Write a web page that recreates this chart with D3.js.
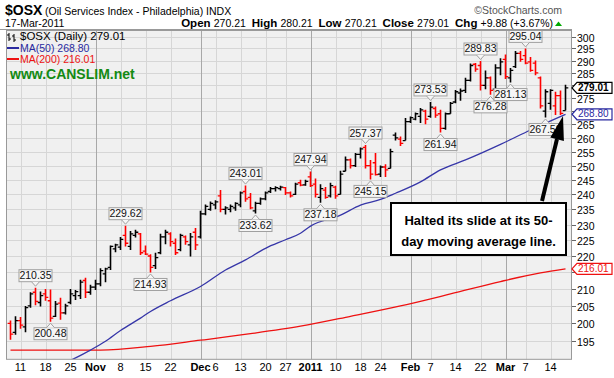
<!DOCTYPE html>
<html><head><meta charset="utf-8">
<script src="https://cdn.jsdelivr.net/npm/d3@7"></script>
<style>
body{margin:0;background:#fff}
svg{display:block}
text{font-family:"Liberation Sans",Arial,sans-serif}
</style>
</head><body><svg id="c" width="614" height="378"></svg>
<script>
// ---------------- DATA ----------------
const dates = [
"2010-10-07","2010-10-08","2010-10-11","2010-10-12","2010-10-13","2010-10-14","2010-10-15","2010-10-18","2010-10-19","2010-10-20","2010-10-21","2010-10-22","2010-10-25","2010-10-26","2010-10-27","2010-10-28","2010-10-29",
"2010-11-01","2010-11-02","2010-11-03","2010-11-04","2010-11-05","2010-11-08","2010-11-09","2010-11-10","2010-11-11","2010-11-12","2010-11-15","2010-11-16","2010-11-17","2010-11-18","2010-11-19","2010-11-22","2010-11-23","2010-11-24","2010-11-26","2010-11-29","2010-11-30",
"2010-12-01","2010-12-02","2010-12-03","2010-12-06","2010-12-07","2010-12-08","2010-12-09","2010-12-10","2010-12-13","2010-12-14","2010-12-15","2010-12-16","2010-12-17","2010-12-20","2010-12-21","2010-12-22","2010-12-23","2010-12-27","2010-12-28","2010-12-29","2010-12-30","2010-12-31",
"2011-01-03","2011-01-04","2011-01-05","2011-01-06","2011-01-07","2011-01-10","2011-01-11","2011-01-12","2011-01-13","2011-01-14","2011-01-18","2011-01-19","2011-01-20","2011-01-21","2011-01-24","2011-01-25","2011-01-26","2011-01-27","2011-01-28","2011-01-31",
"2011-02-01","2011-02-02","2011-02-03","2011-02-04","2011-02-07","2011-02-08","2011-02-09","2011-02-10","2011-02-11","2011-02-14","2011-02-15","2011-02-16","2011-02-17","2011-02-18","2011-02-22","2011-02-23","2011-02-24","2011-02-25","2011-02-28",
"2011-03-01","2011-03-02","2011-03-03","2011-03-04","2011-03-07","2011-03-08","2011-03-09","2011-03-10","2011-03-11","2011-03-14","2011-03-15","2011-03-16","2011-03-17"];

const open = [200,197.5,200.8,199,205,209,206,208.5,206.5,202,205.8,203,206,208,208,212.5,209,
210.5,211.5,214.5,216.5,222.2,222.8,226.5,223,226.5,227,221.5,220,217,221,226,227,224,222,226,223.5,227.5,
226,233.5,235,236.5,239.5,235,235,235.5,236.5,241,239,234.5,237,238.5,241,242,242,242.3,240.5,240,244,243.3,
246,243.5,239,241.5,239.5,242.5,240,248,252,250,254,256.5,250,251,247,249.5,249,261,259.5,259,
266,267,268,270,268,271,269,263.5,269,273.5,277,278,282,288.5,288,280,283,278.5,287,
290.5,283,287.5,293,292,289.5,289,283,270,273,272,276,270.21];
const high = [200.8,202,201.8,205,209,210.35,209.2,210,209.8,206.4,207.4,205.6,210,209.7,212.7,213.3,211.2,
212.7,216.2,216.4,223.3,223.8,226,229.62,227.9,228.3,227.3,223.3,220.5,221,227,228.3,227.5,225.5,227,226.5,227.3,228.9,
234.5,236.6,237.6,238,241.5,236,236.6,237.4,241,243.01,240.5,237.5,239,241,242.5,242.8,243,242.5,241,244,245,245,
247.94,245.5,243.5,242.5,244,243,248.2,253.2,252.5,254.5,256.5,257.37,252,254.5,250,250.5,256,262,260.5,267.4,
268,269.5,271.2,270.5,273.53,271.8,270.5,269.5,273.5,278.2,278.8,283,288.8,289,289.83,286,283.5,288.5,291,
292.5,287,294,294,295.04,291.5,290,283.5,278.5,278.5,277.5,278,280.21];
const low = [195.4,196.8,198.5,197.5,204.5,205.2,204.8,206.5,200.48,201.8,201,202.5,205.5,206.7,207,207.3,208.3,
209.7,210.8,212,215.7,221.2,221.9,223,221.9,225.8,220.3,220.3,214.93,216,220.5,223.7,223,220.3,221.5,223.5,219.8,221.9,
225.5,233,234.5,235,234,233.3,234,234.5,235.7,237.5,235,233.62,236.5,238,240.5,241,241.3,239.8,239,239.8,242.8,243,
242.5,239,237.18,238.5,239,238.5,240,248,249,249.5,252.5,249,245.15,246.5,246,246,249,259,257,259,
265.5,266.5,265.5,265,267.5,267.5,261.94,263,269,273,274,277,281.5,285.5,278,278.5,276.28,278,284,
282.5,281.13,287,289.5,288.5,285.5,284,271,267.58,270.5,268.5,268.5,270.21];
const close = [197,200.8,199.5,204.5,208.5,206.3,208,207.5,201.5,205.5,203,205,208.5,209.2,212,209,210.5,
211.5,215.5,216,223,223.5,225.2,224,227,227.5,221,220.6,216.5,219.5,226,227.5,224.5,221,226.5,224.5,226,223.5,
233.5,236,237,237.5,235,235.5,236,237,240.5,238.5,235.5,237,238.5,240.5,242,242.3,242.5,240.5,239.5,243.5,243.2,244.5,
243,240,242,239,243,239.5,247,252,250,254,256,250,247,246.8,249.5,248.5,255,260,258,266,
267.5,269,270.5,267,271.5,268.5,263.5,269,273,277.5,277.8,282,288,286.5,280,283,278,287,289.5,
283.5,286,293,290.5,289,286,285,272,277.5,278,276,269.13,279.01];

// moving averages at selected trading days (index into dates)
const ma50Idx = [12,16,19,22,26,28,32,38,43,47,51,55,58,60,66,70,74,77,82,86,91,98,104,111];
const ma50Val = [189.8,192.6,195.0,198.0,201.5,203.4,206.5,210.7,215.7,218.8,222.4,225.1,227.2,229.5,233.1,236.4,238.3,240.4,244.3,248.5,252.0,257.6,262.9,268.80];
const ma200Idx = [0,18,28,38,48,58,68,78,88,98,106,111];
const ma200Val = [192.6,192.6,193.6,195.3,197.1,199.2,202.0,205.0,208.5,212.2,214.8,216.01];

const yTicks = [195,200,205,210,215,220,225,230,235,240,245,250,255,260,265,270,275,280,285,290,295,300];
const xTickDates = ["2010-10-11","2010-10-18","2010-10-25","2010-11-01","2010-11-08","2010-11-15","2010-11-22","2010-12-01","2010-12-06","2010-12-13","2010-12-20","2010-12-27","2011-01-03","2011-01-10","2011-01-18","2011-01-24","2011-02-01","2011-02-07","2011-02-14","2011-02-22","2011-03-01","2011-03-07","2011-03-14"];
const xTickLabels = ["11","18","25","Nov","8","15","22","Dec","6","13","20","27","2011","10","18","24","Feb","7","14","22","Mar","7","14"];
const xTickMajor = [0,0,0,1,0,0,0,1,0,0,0,0,1,0,0,0,1,0,0,0,1,0,0];

const peakDates = ["2010-10-14","2010-10-19","2010-11-09","2010-11-16","2010-12-14","2010-12-16","2011-01-03","2011-01-05","2011-01-19","2011-01-20","2011-02-07","2011-02-09","2011-02-22","2011-02-24","2011-03-02","2011-03-07","2011-03-11"];
const peakValues = [210.35,200.48,229.62,214.93,243.01,233.62,247.94,237.18,257.37,245.15,273.53,261.94,289.83,276.28,281.13,295.04,267.58];
const peakTypes = ["h","l","h","l","h","l","h","l","h","l","h","l","h","l","l","h","l"];

// ---------------- CHART ----------------
const svg = d3.select("#c");
const L = 6, R = 572, T = 30.5, B = 359.3;
const x = d3.scalePoint().domain(dates).range([10.5, 565.5]);
const y = d3.scaleLog().domain([190.1, 302.6]).range([B, T]);
const n = close.length-1;
const tagVals = [close[n], ma50Val[ma50Val.length-1], ma200Val[ma200Val.length-1]];

svg.append("rect").attr("x",L).attr("y",T).attr("width",R-L).attr("height",B-T).attr("fill","#f0f0f0");
svg.append("defs").append("clipPath").attr("id","clip").append("rect")
  .attr("x",L).attr("y",T).attr("width",R-L).attr("height",B-T);

// grid
const g = svg.append("g");
yTicks.forEach(t=>{
  g.append("line").attr("x1",L).attr("x2",R).attr("y1",Math.round(y(t))+0.5).attr("y2",Math.round(y(t))+0.5)
   .attr("stroke","#d6d6d6").attr("stroke-width",1);
});
xTickDates.forEach((d,i)=>{
  const xx = Math.round(x(d))+0.5;
  g.append("line").attr("x1",xx).attr("x2",xx).attr("y1",T).attr("y2",B)
   .attr("stroke", xTickMajor[i] ? "#a8a8a8" : "#d6d6d6").attr("stroke-width",1);
});

// MA lines
const plot = svg.append("g").attr("clip-path","url(#clip)");
const line = d3.line().x(d=>x(dates[d[0]])).y(d=>y(d[1])).curve(d3.curveMonotoneX);
plot.append("path").datum(ma200Idx.map((d,i)=>[d,ma200Val[i]])).attr("d",line)
  .attr("fill","none").attr("stroke","#ee1111").attr("stroke-width",1.3);
plot.append("path").datum(ma50Idx.map((d,i)=>[d,ma50Val[i]])).attr("d",line)
  .attr("fill","none").attr("stroke","#3636a8").attr("stroke-width",1.3);

// bars
dates.forEach((d,i)=>{
  const prev = i>0 ? close[i-1] : open[i];
  const col = close[i] < prev ? "#ff0000" : "#000000";
  const xx = x(d);
  const bg = plot.append("g").attr("stroke",col);
  bg.append("line").attr("x1",xx).attr("x2",xx).attr("y1",y(low[i])).attr("y2",y(high[i])).attr("stroke-width",1.6);
  bg.append("line").attr("x1",xx-2.8).attr("x2",xx).attr("y1",y(open[i])).attr("y2",y(open[i])).attr("stroke-width",1.3);
  bg.append("line").attr("x1",xx).attr("x2",xx+2.8).attr("y1",y(close[i])).attr("y2",y(close[i])).attr("stroke-width",1.3);
});

// peak labels
peakDates.forEach((d,i)=>{
  const xx = x(d), yy = y(peakValues[i]);
  const w = 33, h = 12;
  const lg = svg.append("g");
  let by, tri;
  if (peakTypes[i]==="h") {
    by = yy - 6 - h;
    tri = `M${xx-4},${by+h} L${xx},${yy-1.5} L${xx+4},${by+h}`;
  } else {
    by = yy + 6;
    tri = `M${xx-4},${by} L${xx},${yy+1.5} L${xx+4},${by}`;
  }
  lg.append("rect").attr("x",xx-w/2).attr("y",by).attr("width",w).attr("height",h)
    .attr("fill","#f6f6f6").attr("stroke","#a0a0a0").attr("stroke-width",1);
  lg.append("path").attr("d",tri).attr("fill","#f6f6f6").attr("stroke","#a0a0a0").attr("stroke-width",1);
  lg.append("text").attr("x",xx).attr("y",by+h-2.5).attr("text-anchor","middle")
    .attr("font-size",10.5).attr("fill","#111").text(peakValues[i].toFixed(2));
});

// plot frame
svg.append("rect").attr("x",L+0.5).attr("y",T).attr("width",R-L-1).attr("height",B-T)
  .attr("fill","none").attr("stroke","#999").attr("stroke-width",1);

// right axis
const ax = svg.append("g");
yTicks.forEach(t=>{
  const yy = Math.round(y(t))+0.5;
  ax.append("line").attr("x1",R).attr("x2",R+4).attr("y1",yy).attr("y2",yy).attr("stroke","#666");
  const hidden = tagVals.some(v=>Math.abs(y(v)-y(t))<8);
  if (!hidden) ax.append("text").attr("x",R+5).attr("y",yy+4.5).attr("font-size",10.5).attr("fill","#000").text(t);
});
// value tags
function tag(v, col, bold){
  const yy = y(v);
  const gg = svg.append("g");
  gg.append("path").attr("d",`M${R},${yy} L${R+5},${yy-5.5} L${R+40},${yy-5.5} L${R+40},${yy+5.5} L${R+5},${yy+5.5} Z`)
    .attr("fill","#fff").attr("stroke",col).attr("stroke-width",1.2);
  gg.append("text").attr("x",R+6).attr("y",yy+3.0).attr("font-size",10).attr("font-weight",bold?"bold":"normal")
    .attr("fill",col).text(v.toFixed(2));
}
tag(tagVals[0], "#000", true);
tag(tagVals[1], "#2a2aa0", false);
tag(tagVals[2], "#ee1111", false);

// x axis labels
xTickDates.forEach((d,i)=>{
  svg.append("text").attr("x",x(d)).attr("y",371).attr("text-anchor","middle")
    .attr("font-size",11).attr("font-weight",xTickMajor[i]?"bold":"normal").attr("fill","#000")
    .text(xTickLabels[i]);
});

// header
const hd = svg.append("g");
hd.append("text").attr("x",5).attr("y",15).attr("font-size",14).attr("font-weight","bold").text("$OSX");
hd.append("text").attr("x",45).attr("y",15).attr("font-size",10.5).text("(Oil Services Index - Philadelphia) INDX");
hd.append("text").attr("x",562).attr("y",14).attr("font-size",10.5).attr("text-anchor","end").attr("fill","#555").text("\u00A9StockCharts.com");
hd.append("text").attr("x",5).attr("y",27).attr("font-size",10.5).text("17-Mar-2011");
const ohlc = hd.append("text").attr("x",553).attr("y",27).attr("font-size",10.5).attr("text-anchor","end");
const chg = close[n]-close[n-1];
[["Open ",true],[open[n].toFixed(2)+"  ",false],["High ",true],[high[n].toFixed(2)+"  ",false],["Low ",true],[low[n].toFixed(2)+"  ",false],
 ["Close ",true],[close[n].toFixed(2)+"  ",false],["Chg ",true],["+"+chg.toFixed(2)+" (+"+(chg/close[n-1]*100).toFixed(2)+"%)",false]]
 .forEach(p=>ohlc.append("tspan").attr("font-weight",p[1]?"bold":"normal").attr("font-size",p[1]?11.5:10.5).attr("xml:space","preserve").text(p[0]));
hd.append("path").attr("d","M555,26 L558.5,21.5 L562,26 Z").attr("fill","#00aa00");
hd.append("line").attr("x1",0).attr("x2",R).attr("y1",29.5).attr("y2",29.5).attr("stroke","#999");

// legend
const lgd = svg.append("g");
lgd.append("path").attr("d","M9,33 V41 M7,35 H9 M9,39 H11 M14,34 V42 M12,36 H14 M14,40 H16").attr("stroke","#000").attr("stroke-width",1);
lgd.append("text").attr("x",20).attr("y",40).attr("font-size",11.5).attr("font-family","DejaVu Sans").text("$OSX (Daily) "+close[n].toFixed(2));
lgd.append("line").attr("x1",7).attr("x2",19).attr("y1",48).attr("y2",48).attr("stroke","#2a2aa0").attr("stroke-width",2);
lgd.append("text").attr("x",20).attr("y",52).attr("font-size",10.5).attr("fill","#2a2aa0").text("MA(50) "+tagVals[1].toFixed(2));
lgd.append("line").attr("x1",7).attr("x2",19).attr("y1",59).attr("y2",59).attr("stroke","#ee1111").attr("stroke-width",2);
lgd.append("text").attr("x",20).attr("y",63).attr("font-size",10.5).attr("fill","#ee1111").text("MA(200) "+tagVals[2].toFixed(2));
lgd.append("text").attr("x",10).attr("y",79).attr("font-size",14).attr("font-weight","bold").attr("fill","#138a13").text("www.CANSLIM.net");

// annotation
const an = svg.append("g");
an.append("rect").attr("x",391).attr("y",203).attr("width",175).attr("height",52).attr("fill","#fff").attr("stroke","#000").attr("stroke-width",2);
an.append("text").attr("x",478.5).attr("y",225).attr("text-anchor","middle").attr("font-size",13).attr("font-weight","bold").text("Halted its slide at its 50-");
an.append("text").attr("x",478.5).attr("y",246).attr("text-anchor","middle").attr("font-size",13).attr("font-weight","bold").text("day moving average line.");
an.append("line").attr("x1",542).attr("y1",201).attr("x2",557).attr("y2",139).attr("stroke","#000").attr("stroke-width",4);
an.append("path").attr("d","M550.3,137.6 L563,116 L563.9,141 Z").attr("fill","#000");
</script></body></html>
